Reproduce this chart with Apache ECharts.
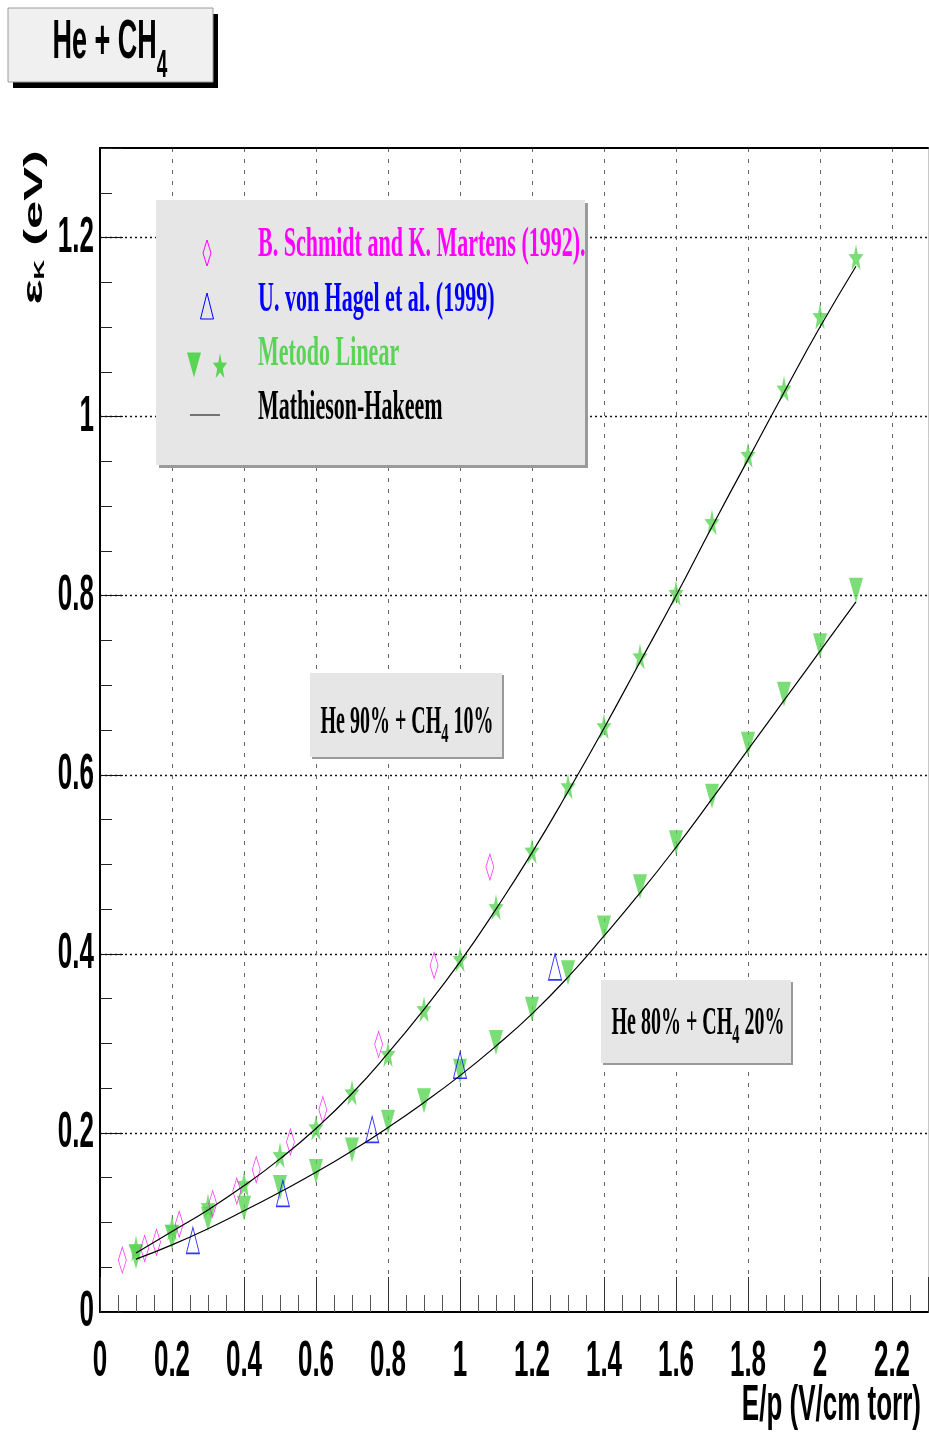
<!DOCTYPE html>
<html>
<head>
<meta charset="utf-8">
<script src="https://cdn.jsdelivr.net/npm/echarts@6/dist/echarts.min.js"></script>
<style>
html, body { margin: 0; padding: 0; background: #fff; }
#chart { width: 929px; height: 1433px; }
</style>
</head>
<body>
<div id="chart"></div>
<script>
// ---- data ----
// B. Schmidt and K. Martens (1992)
var epSchmidt = [0.062, 0.124, 0.157, 0.22, 0.313, 0.38, 0.434, 0.529, 0.619, 0.774, 0.928, 1.083];
var ekSchmidt = [0.058, 0.071, 0.078, 0.098, 0.121, 0.135, 0.159, 0.19, 0.226, 0.299, 0.387, 0.497];
// U. von Hagel et al. (1999)
var epHagel = [0.258, 0.508, 0.756, 1.0, 1.264];
var ekHagel = [0.080, 0.1325, 0.204, 0.2756, 0.3855];
// Metodo Linear (triangles: He 80% + CH4 20%, stars: He 90% + CH4 10%)
var epMetodo = [0.1, 0.2, 0.3, 0.4, 0.5, 0.6, 0.7, 0.8, 0.9, 1.0, 1.1, 1.2, 1.3, 1.4, 1.5, 1.6, 1.7, 1.8, 1.9, 2.0, 2.1];
var ekMetodo80 = [0.062, 0.083, 0.104, 0.116, 0.139, 0.157, 0.181, 0.212, 0.236, 0.269, 0.301, 0.338, 0.379, 0.429, 0.475, 0.524, 0.576, 0.634, 0.690, 0.744, 0.806];
var ekMetodo90 = [0.071, 0.094, 0.118, 0.143, 0.175, 0.206, 0.245, 0.288, 0.338, 0.394, 0.452, 0.515, 0.587, 0.654, 0.732, 0.803, 0.882, 0.957, 1.031, 1.112, 1.178];
// Mathieson-Hakeem curves
var epMH = [0.1, 0.2, 0.3, 0.4, 0.5, 0.6, 0.7, 0.8, 0.9, 1.0, 1.1, 1.2, 1.3, 1.4, 1.5, 1.6, 1.7, 1.8, 1.9, 2.0, 2.1];
var ekMH90 = [0.066, 0.090, 0.114, 0.141, 0.171, 0.205, 0.244, 0.289, 0.338, 0.391, 0.450, 0.513, 0.581, 0.652, 0.726, 0.800, 0.877, 0.952, 1.027, 1.100, 1.168];
var ekMH80 = [0.059, 0.075, 0.093, 0.113, 0.134, 0.156, 0.180, 0.206, 0.234, 0.264, 0.297, 0.333, 0.374, 0.420, 0.468, 0.519, 0.573, 0.628, 0.683, 0.738, 0.793];

// tick labels
var xTickValues = [0, 0.2, 0.4, 0.6, 0.8, 1, 1.2, 1.4, 1.6, 1.8, 2, 2.2];
var xTickLabels = ['0', '0.2', '0.4', '0.6', '0.8', '1', '1.2', '1.4', '1.6', '1.8', '2', '2.2'];
var yTickValues = [0, 0.2, 0.4, 0.6, 0.8, 1, 1.2];
var yTickLabels = ['0', '0.2', '0.4', '0.6', '0.8', '1', '1.2'];

var legendNames = ['B. Schmidt and K. Martens (1992).', 'U. von Hagel et al. (1999)', 'Metodo Linear', 'Mathieson-Hakeem'];

var GREEN = '#59d454';
var MAGENTA = '#ff00ff';
var BLUE = '#0000ff';
var SANS = 'Liberation Sans';
var SERIF = 'Liberation Serif';
var SY = 1.95;   // the original text is stretched vertically

var STAR = 'path://M50,0L61.76,33.82L97.55,34.55L69.02,56.18L79.39,90.45L50,70L20.61,90.45L30.98,56.18L2.45,34.55L38.24,33.82Z';

function pairs(xs, ys) {
  return xs.map(function (x, i) { return [x, ys[i]]; });
}

var chart = echarts.init(document.getElementById('chart'));

var option = {
  animation: false,
  backgroundColor: '#fff',
  grid: { left: 100, top: 148, right: 1, bottom: 121, outerBoundsMode: 'none' },
  xAxis: [{
    type: 'value', min: 0, max: 2.3, interval: 0.2, position: 'bottom',
    axisLine: { show: true, onZero: false, lineStyle: { color: '#000', width: 2 } },
    axisTick: { show: true, inside: true, length: 35, lineStyle: { color: '#333', width: 1 } },
    minorTick: { show: true, splitNumber: 4, length: 17, lineStyle: { color: '#555', width: 1 } },
    axisLabel: { show: false },
    splitLine: { show: true, showMinLine: false, showMaxLine: false, lineStyle: { color: '#666', width: 1, type: [4, 7] } }
  }, {
    type: 'value', min: 0, max: 2.3, position: 'top',
    axisLine: { show: true, onZero: false, lineStyle: { color: '#000', width: 2 } },
    axisTick: { show: false }, axisLabel: { show: false }, splitLine: { show: false }
  }],
  yAxis: [{
    type: 'value', min: 0, max: 1.3, interval: 0.2, position: 'left',
    axisLine: { show: true, onZero: false, lineStyle: { color: '#000', width: 2 } },
    axisTick: { show: true, inside: true, length: 23, lineStyle: { color: '#111', width: 1 } },
    minorTick: { show: true, splitNumber: 4, length: 12, lineStyle: { color: '#222', width: 1 } },
    axisLabel: { show: false },
    splitLine: { show: true, showMinLine: false, showMaxLine: false, lineStyle: { color: '#111', width: 1.4, type: [2, 3] } }
  }, {
    type: 'value', min: 0, max: 1.3, position: 'right',
    axisLine: { show: true, onZero: false, lineStyle: { color: '#c8c8c8', width: 1 } },
    axisTick: { show: false }, axisLabel: { show: false }, splitLine: { show: false }
  }],
  series: [
    { name: 'Metodo Linear 80', type: 'scatter', data: pairs(epMetodo, ekMetodo80),
      symbol: 'triangle', symbolRotate: 180, symbolSize: [14, 25],
      itemStyle: { color: GREEN }, z: 2, silent: true },
    { name: 'Metodo Linear 90', type: 'scatter', data: pairs(epMetodo, ekMetodo90),
      symbol: STAR, symbolSize: [15, 26],
      itemStyle: { color: GREEN }, z: 2, silent: true },
    { name: legendNames[0], type: 'scatter', data: pairs(epSchmidt, ekSchmidt),
      symbol: 'diamond', symbolSize: [8, 26],
      itemStyle: { color: 'rgba(0,0,0,0)', borderColor: MAGENTA, borderWidth: 1 }, z: 3, silent: true },
    { name: legendNames[1], type: 'scatter', data: pairs(epHagel, ekHagel),
      symbol: 'triangle', symbolSize: [13, 26],
      itemStyle: { color: 'rgba(0,0,0,0)', borderColor: BLUE, borderWidth: 1.2 }, z: 3, silent: true },
    { name: 'MH 90', type: 'line', data: pairs(epMH, ekMH90), showSymbol: false, symbol: 'none',
      smooth: true, lineStyle: { color: '#000', width: 1.2 }, z: 4, silent: true },
    { name: 'MH 80', type: 'line', data: pairs(epMH, ekMH80), showSymbol: false, symbol: 'none',
      smooth: true, lineStyle: { color: '#000', width: 1.2 }, z: 4, silent: true }
  ]
};
chart.setOption(option);

// ---- text and boxes ----
var mctx = document.createElement('canvas').getContext('2d');
function textW(t, size, fam, wt) {
  mctx.font = wt + ' ' + size + 'px "' + fam + '"';
  return mctx.measureText(t).width;
}

// a line of text made of pieces (for subscripts), stretched like the original
function textGroup(x, y, pieces, opt) {
  var fam = opt.family, wt = opt.weight || 'bold';
  var widths = pieces.map(function (p) { return textW(p.t, p.size, fam, wt); });
  var W = widths.reduce(function (a, b) { return a + b; }, 0);
  var cx = opt.align === 'center' ? -W / 2 : (opt.align === 'right' ? -W : 0);
  var children = [];
  pieces.forEach(function (p, i) {
    children.push({
      type: 'text', x: cx, y: p.dy || 0, z: 30, silent: true,
      style: { text: p.t, fontSize: p.size, fontFamily: fam, fontWeight: wt,
               fill: p.color || opt.color || '#000', align: 'left', verticalAlign: 'middle' }
    });
    cx += widths[i];
  });
  return { type: 'group', x: x, y: y, rotation: opt.rot || 0,
           scaleX: opt.sx || 1, scaleY: opt.sy || 1, z: 30, silent: true, children: children };
}

function shadowBox(x, y, w, h, fill, shade, dx, dy, stroke) {
  return [
    { type: 'rect', z: 20, silent: true, shape: { x: x + dx, y: y + dy, width: w, height: h }, style: { fill: shade } },
    { type: 'rect', z: 21, silent: true, shape: { x: x, y: y, width: w, height: h },
      style: { fill: fill, stroke: stroke || null, lineWidth: 1 } }
  ];
}

function poly(points, fill, stroke) {
  return { type: 'polygon', z: 31, silent: true, shape: { points: points },
           style: { fill: fill, stroke: stroke || null, lineWidth: 1 } };
}

var els = [];

// tick labels placed through the axes' own scales
var xLabY = 1362;
xTickValues.forEach(function (v, i) {
  var px = chart.convertToPixel({ xAxisIndex: 0 }, v);
  els.push(textGroup(px, xLabY, [{ t: xTickLabels[i], size: 26 }], { family: SANS, align: 'center', sy: SY }));
});
yTickValues.forEach(function (v, i) {
  var py = chart.convertToPixel({ yAxisIndex: 0 }, v);
  els.push(textGroup(94, py, [{ t: yTickLabels[i], size: 26 }], { family: SANS, align: 'right', sy: SY }));
});

// axis titles
els.push(textGroup(921, 1406, [{ t: 'E/p (V/cm torr)', size: 26 }], { family: SANS, align: 'right', sy: SY }));
els.push(textGroup(35, 150, [{ t: '\u03b5', size: 27 }, { t: 'K', size: 14, dy: 5 }, { t: ' (eV)', size: 26 }],
  { family: SANS, align: 'right', rot: Math.PI / 2, sx: 1.95 }));

// title box
els = els.concat(shadowBox(8, 8, 205, 74, '#f0f0f0', '#000', 5, 6, '#9a9a9a'));
els.push(textGroup(110, 43, [{ t: 'He + CH', size: 27 }, { t: '4', size: 19, dy: 11.5 }], { family: SANS, align: 'center', sy: 2.05 }));

// legend
els = els.concat(shadowBox(156, 200, 429, 265, '#e6e6e6', '#9a9a9a', 3, 3));
var legColors = [MAGENTA, BLUE, GREEN, '#000'];
var legY = [245, 300, 354, 408];
legendNames.forEach(function (n, i) {
  els.push(textGroup(258, legY[i], [{ t: n, size: 22 }], { family: SERIF, color: legColors[i], sy: SY }));
});
els.push(poly([[207, 240], [211, 253], [207, 266], [203, 253]], 'none', MAGENTA));
els.push(poly([[207, 293], [213.5, 319], [200.5, 319]], 'none', BLUE));
els.push(poly([[187, 352.5], [201, 352.5], [194, 377.5]], GREEN));
var starPts = [[50, 0], [61.76, 33.82], [97.55, 34.55], [69.02, 56.18], [79.39, 90.45], [50, 70], [20.61, 90.45], [30.98, 56.18], [2.45, 34.55], [38.24, 33.82]];
els.push(poly(starPts.map(function (p) { return [212.5 + p[0] * 0.15, 353 + p[1] * 0.28]; }), GREEN));
els.push({ type: 'line', z: 31, silent: true, shape: { x1: 190, y1: 415, x2: 220, y2: 415 }, style: { stroke: '#000', lineWidth: 1 } });

// mixture labels
els = els.concat(shadowBox(310, 673, 192, 84, '#e6e6e6', '#9a9a9a', 2, 2));
els.push(textGroup(407, 723, [{ t: 'He 90% + CH', size: 20 }, { t: '4', size: 14.5, dy: 6 }, { t: ' 10%', size: 20 }],
  { family: SERIF, align: 'center', sy: SY }));
els = els.concat(shadowBox(601, 980, 190, 83, '#e6e6e6', '#9a9a9a', 2, 2));
els.push(textGroup(698, 1024, [{ t: 'He 80% + CH', size: 20 }, { t: '4', size: 14.5, dy: 6 }, { t: ' 20%', size: 20 }],
  { family: SERIF, align: 'center', sy: SY }));

chart.setOption({ graphic: { elements: els } });
</script>
</body>
</html>
